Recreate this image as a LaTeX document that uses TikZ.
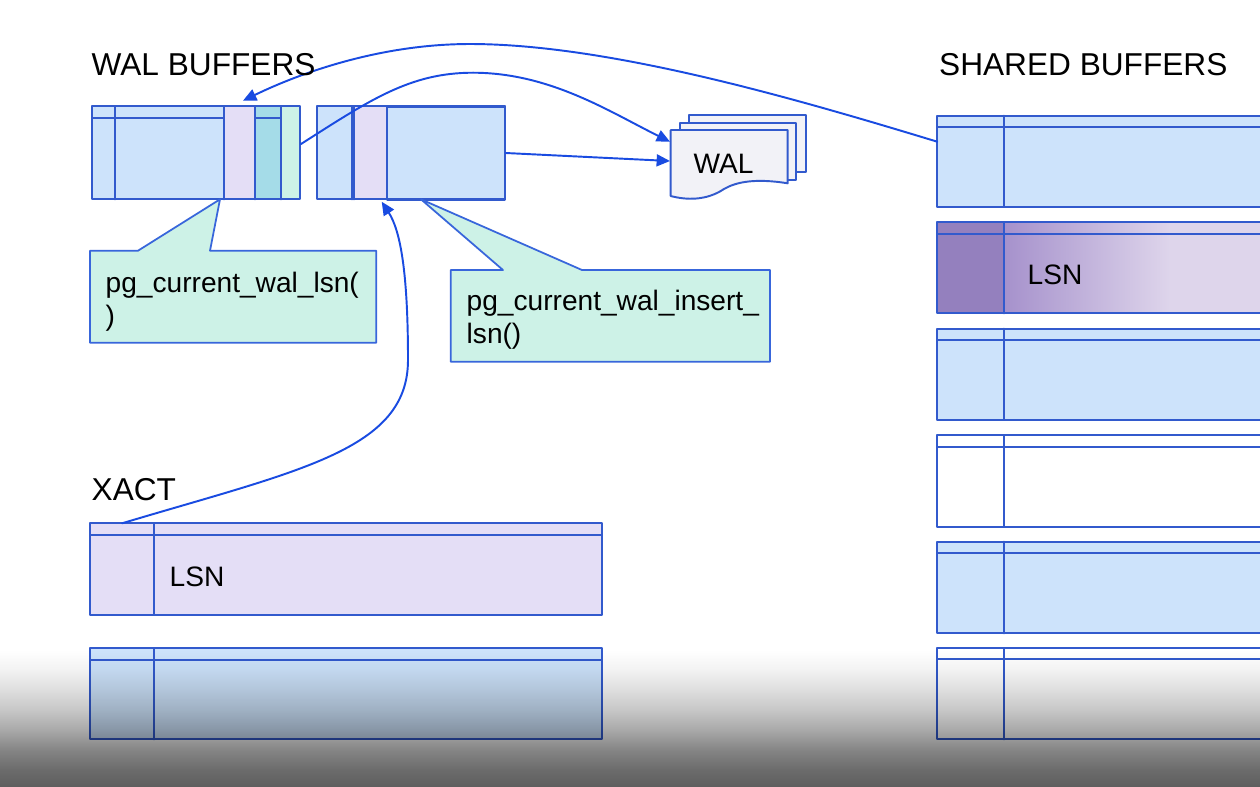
\documentclass[tikz,border=0pt]{standalone}
\usepackage{fontspec}
\setmainfont{Liberation Sans}
\usetikzlibrary{calc}
\usetikzlibrary{arrows.meta}
\pgfdeclareverticalshading{vignette}{100bp}{color(0bp)=(black!63); color(25bp)=(black!63); color(30.3bp)=(black!58); color(36.9bp)=(black!48); color(43.5bp)=(black!34); color(50.2bp)=(black!22); color(56.8bp)=(black!13); color(63.4bp)=(black!5); color(70bp)=(white); color(100bp)=(white)}
\begin{document}
\begin{tikzpicture}[line cap=round,line join=round,>={Triangle[length=3.8pt,width=3.4pt]},x=.1cm,y=-.1cm,
  cell/.style={draw=ssuuee,line width=.55pt},
  link/.style={->,color=qquuff,line width=.55pt},
  callout/.style={draw=ssuuff,line width=.5pt,fill=cceedd},
  lbl/.style={inner sep=0pt,anchor=base west}]
\definecolor{cceeff}{rgb}{0.804,0.890,0.984}
\definecolor{eeddff}{rgb}{0.894,0.871,0.965}
\definecolor{aaddee}{rgb}{0.647,0.863,0.910}
\definecolor{cceedd}{rgb}{0.804,0.949,0.906}
\definecolor{eeeeff}{rgb}{0.949,0.949,0.969}
\definecolor{ssuuee}{rgb}{0.196,0.353,0.804}
\definecolor{ssuuff}{rgb}{0.220,0.400,0.860}
\definecolor{qquuff}{rgb}{0.098,0.294,0.882}
\definecolor{aaqqcc}{rgb}{0.580,0.502,0.745}
\definecolor{bbaadd}{rgb}{0.650,0.570,0.800}
\definecolor{ddccee}{rgb}{0.871,0.835,0.922}
\useasboundingbox (0.,0.) rectangle (126.,78.6);
\clip(0.,0.) rectangle (126.,78.6);
\fill[white] (0.,0.) rectangle (126.,78.6);
% wal buffers, first page
\fill[fill=cceeff] (9.2,10.6) rectangle (22.4,19.93);
\fill[fill=eeddff] (22.4,10.6) rectangle (25.5,19.93);
\fill[fill=aaddee] (25.5,10.6) rectangle (28.1,19.93);
\fill[fill=cceedd] (28.1,10.6) rectangle (30.,19.93);
\draw[cell] (9.2,10.6) rectangle (30.,19.93);
\draw[cell] (11.5,10.6) -- (11.5,19.93);
\draw[cell] (22.4,10.6) -- (22.4,19.93);
\draw[cell] (25.5,10.6) -- (25.5,19.93);
\draw[cell] (28.1,10.6) -- (28.1,19.93);
\draw[cell] (9.2,11.83) -- (22.4,11.83);
\draw[cell] (25.5,11.83) -- (28.1,11.83);
% wal buffers, second page
\fill[fill=cceeff] (31.67,10.6) rectangle (35.4,19.93);
\fill[fill=eeddff] (35.4,10.6) rectangle (38.7,19.93);
\fill[fill=cceeff] (38.7,10.6) rectangle (50.5,19.93);
\draw[cell] (31.67,10.6) rectangle (50.5,19.93);
\draw[cell] (35.17,10.6) -- (35.17,19.93);
\draw[cell] (35.4,10.6) -- (35.4,19.93);
\draw[cell,line width=.85pt] (38.7,10.6) rectangle (50.5,19.93);
% wal files
\draw[cell,fill=eeeeff] (68.9,11.5) rectangle (80.57,17.2);
\draw[cell,fill=eeeeff] (68.,12.27) rectangle (79.6,18.);
\draw[cell,fill=eeeeff] (67.07,13.) -- (78.77,13.) -- (78.77,18.33) .. controls (75.5,17.8) and (73.6,18.2) .. (72.4,18.9) .. controls (70.6,20.1) and (68.6,20.) .. (67.07,19.6) -- cycle;
% xact
\draw[cell,fill=eeddff] (9.,52.33) rectangle (60.2,61.5);
\draw[cell] (9.,53.5) -- (60.2,53.5);
\draw[cell] (15.44,52.33) -- (15.44,61.5);
\draw[cell,fill=cceeff] (9.,64.83) rectangle (60.2,73.93);
\draw[cell] (9.,66.) -- (60.2,66.);
\draw[cell] (15.44,64.83) -- (15.44,73.93);
% shared buffers
\draw[cell,fill=cceeff] (93.73,11.57) rectangle (130.,20.67);
\draw[cell] (93.73,12.73) -- (130.,12.73);
\draw[cell] (100.4,11.57) -- (100.4,20.67);
\fill[fill=aaqqcc] (93.73,22.23) rectangle (100.4,31.33);
\shade[left color=bbaadd,right color=ddccee] (100.4,22.23) rectangle (117.,31.33);
\fill[fill=ddccee] (117.,22.23) rectangle (130.,31.33);
\draw[cell] (93.73,22.23) rectangle (130.,31.33);
\draw[cell] (93.73,23.4) -- (130.,23.4);
\draw[cell] (100.4,22.23) -- (100.4,31.33);
\draw[cell,fill=cceeff] (93.73,32.87) rectangle (130.,42.);
\draw[cell] (93.73,34.) -- (130.,34.);
\draw[cell] (100.4,32.87) -- (100.4,42.);
\draw[cell,fill=white] (93.73,43.5) rectangle (130.,52.67);
\draw[cell] (93.73,44.67) -- (130.,44.67);
\draw[cell] (100.4,43.5) -- (100.4,52.67);
\draw[cell,fill=cceeff] (93.73,54.17) rectangle (130.,63.33);
\draw[cell] (93.73,55.33) -- (130.,55.33);
\draw[cell] (100.4,54.17) -- (100.4,63.33);
\draw[cell,fill=white] (93.73,64.83) rectangle (130.,73.93);
\draw[cell] (93.73,65.93) -- (130.,65.93);
\draw[cell] (100.4,64.83) -- (100.4,73.93);
% callouts
\draw[callout] (9.,25.07) -- (13.8,25.07) -- (22.,19.93) -- (21.,25.07) -- (37.63,25.07) -- (37.63,34.27) -- (9.,34.27) -- cycle;
\draw[callout] (45.07,27.) -- (50.3,27.) -- (42.1,19.93) -- (58.2,27.) -- (77.,27.) -- (77.,36.17) -- (45.07,36.17) -- cycle;
% connection points
\coordinate (sbone) at (93.73,14.17);
\coordinate (walpin) at (24.3,10.07);
\coordinate (walout) at (30.1,14.4);
\coordinate (docin) at (67.,14.17);
\coordinate (blkout) at (50.6,15.3);
\coordinate (docinb) at (67.,16.1);
\coordinate (xactout) at (12.2,52.33);
\coordinate (blkin) at (38.17,20.17);
\draw[link] (sbone) .. controls (80.,10.) and (61.,4.4) .. (47.,4.4) .. controls (38.,4.4) and (30.,7.3) .. (walpin);
\draw[link] (walout) .. controls (37.,10.) and (41.,7.27) .. (47.3,7.27) .. controls (55.,7.27) and (61.,11.2) .. (docin);
\draw[link] (blkout) -- (docinb);
\draw[link] (xactout) .. controls (30.,47.) and (40.8,45.) .. (40.8,36.) .. controls (40.8,27.) and (40.,23.) .. (blkin);
\begin{small}
\draw (9.1,7.5) node[lbl] (walbuf) {WAL BUFFERS};
\draw (93.85,7.5) node[lbl] (shbuf) {SHARED BUFFERS};
\draw (9.1,50.) node[lbl] (xact) {XACT};
\end{small}
\begin{footnotesize}
\draw (69.3,17.3) node[lbl] (wal) {WAL};
\draw (16.9,58.6) node[lbl] (xactlsn) {LSN};
\draw (102.7,28.4) node[lbl] (pagelsn) {LSN};
\draw (10.5,29.2) node[lbl,text width=3.cm,align=left] (curlsn) {pg\_current\_wal\_lsn(\\)};
\draw (46.6,31.) node[lbl,text width=3.2cm,align=left] (inslsn) {pg\_current\_wal\_insert\_\\lsn()};
\end{footnotesize}
% bottom shadow
\shade[blend mode=multiply,shading=vignette] (0.,63.5) rectangle (126.,78.6);
\end{tikzpicture}
\end{document}
